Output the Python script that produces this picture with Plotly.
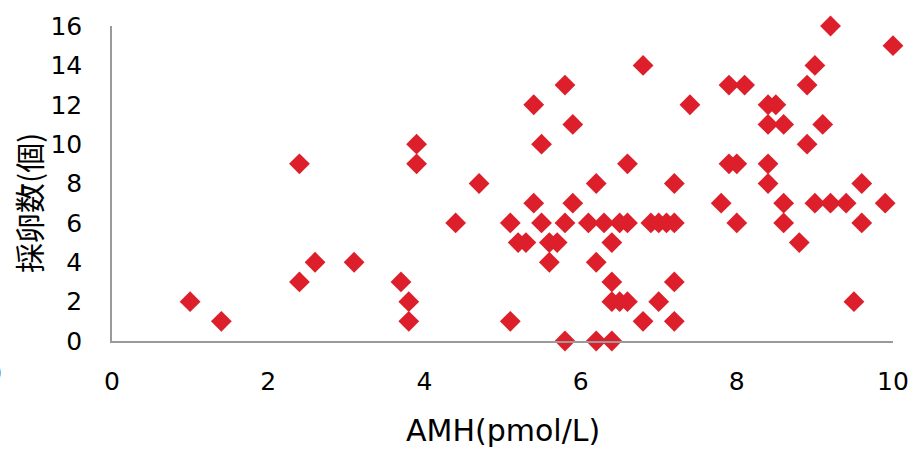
import plotly.graph_objects as go

# AMH (pmol/L) values
amh = [1.0, 1.4, 2.4, 2.4, 2.6, 3.1, 3.7, 3.8, 3.8, 3.9, 3.9, 4.4, 4.7,
       5.1, 5.1, 5.2, 5.3, 5.4, 5.4, 5.5, 5.5, 5.6, 5.6, 5.7, 5.8, 5.8, 5.8,
       5.9, 5.9, 6.1, 6.2, 6.2, 6.2, 6.3, 6.4, 6.4, 6.4, 6.4, 6.5, 6.5,
       6.6, 6.6, 6.6, 6.8, 6.8, 6.9, 7.0, 7.0, 7.1, 7.2, 7.2, 7.2, 7.2,
       7.4, 7.8, 7.9, 7.9, 8.0, 8.0, 8.1, 8.4, 8.4, 8.4, 8.4, 8.5, 8.6,
       8.6, 8.6, 8.8, 8.9, 8.9, 9.0, 9.0, 9.1, 9.2, 9.2, 9.4, 9.5, 9.6,
       9.6, 9.9, 10.0]
# number of oocytes retrieved
oocytes = [2, 1, 9, 3, 4, 4, 3, 2, 1, 10, 9, 6, 8,
           6, 1, 5, 5, 12, 7, 10, 6, 5, 4, 5, 13, 6, 0,
           11, 7, 6, 8, 4, 0, 6, 5, 3, 2, 0, 6, 2,
           9, 6, 2, 14, 1, 6, 2, 6, 6, 8, 6, 3, 1,
           12, 7, 13, 9, 9, 6, 13, 12, 11, 9, 8, 12, 11,
           7, 6, 5, 13, 10, 14, 7, 11, 16, 7, 7, 2, 8,
           6, 7, 15]

x_ticks = [0, 2, 4, 6, 8, 10]
y_ticks = [0, 2, 4, 6, 8, 10, 12, 14, 16]

x_title = "AMH(pmol/L)"
y_title = "採卵数(個)"

fig = go.Figure()
fig.add_trace(go.Scatter(
    x=amh, y=oocytes, mode="markers",
    marker=dict(symbol="diamond", size=16, color="#DC1F2A", line=dict(width=0)),
    cliponaxis=False, showlegend=False, hoverinfo="x+y",
))

axis_font = dict(family="DejaVu Sans", size=25, color="#000000")

fig.update_layout(
    width=915, height=451,
    margin=dict(l=112, r=22, t=26, b=110),
    paper_bgcolor="white", plot_bgcolor="white",
    xaxis=dict(
        range=[0, 10], tickvals=x_ticks, ticktext=[str(v) for v in x_ticks],
        showgrid=False, zeroline=False, showline=True, linecolor="#9A9A9A",
        linewidth=1.5, ticks="", tickfont=axis_font, ticklabelstandoff=17,
        automargin=False,
    ),
    yaxis=dict(
        range=[0, 16], tickvals=y_ticks, ticktext=[str(v) for v in y_ticks],
        showgrid=False, zeroline=False, showline=True, linecolor="#9A9A9A",
        linewidth=1.5, ticks="", tickfont=axis_font, ticklabelstandoff=23,
        automargin=False,
    ),
    annotations=[
        dict(text="0", xref="paper", yref="paper", x=-0.151, y=-0.102,
             xanchor="center", yanchor="middle", showarrow=False, font=axis_font),
        dict(text=x_title, xref="paper", yref="paper", x=0.5, y=-0.2857,
             xanchor="center", yanchor="middle", showarrow=False,
             font=dict(family="DejaVu Sans", size=30, color="#000000")),
        dict(text=y_title, xref="paper", yref="paper", x=-0.1076, y=0.438,
             xanchor="center", yanchor="middle", showarrow=False, textangle=-90,
             font=dict(family="Noto Sans CJK JP", size=30, color="#000000")),
    ],
)

fig.write_html("out.html")
